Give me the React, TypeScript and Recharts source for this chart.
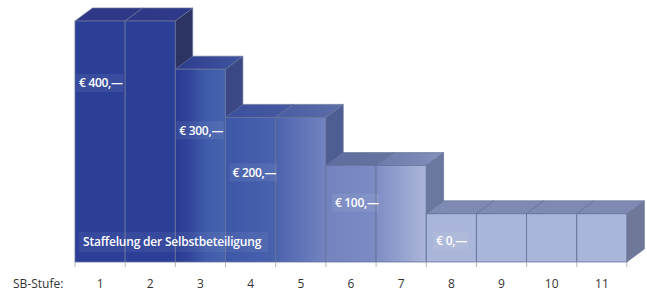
import React from 'react';
import { BarChart, Bar, XAxis, YAxis, LabelList } from 'recharts';

// ---- data ----
const stufen = ['1', '2', '3', '4', '5', '6', '7', '8', '9', '10', '11'];
const stufenHoehe = [5, 5, 4, 3, 3, 2, 2, 1, 1, 1, 1];
const selbstbeteiligung = [400, 400, 300, 200, 200, 100, 100, 0, 0, 0, 0];
const betragAnStufe = [0, 2, 3, 5, 7]; // index where the amount label is written
const achsenTitel = 'SB-Stufe:';
const diagrammTitel = 'Staffelung der Selbstbeteiligung';

const data = stufen.map((s, i) => ({ stufe: s, hoehe: stufenHoehe[i], sb: selbstbeteiligung[i] }));

// ---- styles ----
const FONT = '"Open Sans", "Noto Sans", sans-serif';
const DX = 17.5;
const DY = 13;
const frontStops: string[][] = [
  ['#2c3f97', '#2c3f97'],
  ['#2c3f97', '#2c3f97'],
  ['#293c93', '#4663ae'],
  ['#3e58a8', '#4862ae'],
  ['#4b63ae', '#7383c0'],
  ['#7383bf', '#7b8bc4'],
  ['#7e8dc5', '#abb6d9'],
  ['#a9b5d9', '#a9b5d9'],
  ['#a9b5d9', '#a9b5d9'],
  ['#a9b5d9', '#a9b5d9'],
  ['#a9b5d9', '#a9b5d9'],
];
const topStops: string[][] = [
  ['#2e3886', '#2e3886'],
  ['#2e3886', '#2f3a8a'],
  ['#2d3c8e', '#40549f'],
  ['#3c509e', '#46599f'],
  ['#4a5da3', '#5d6da8'],
  ['#5e6ca0', '#66749f'],
  ['#6c7aab', '#8390ba'],
  ['#7f8ab3', '#7f8ab3'],
  ['#7f8ab3', '#7f8ab3'],
  ['#7f8ab3', '#7f8ab3'],
  ['#7f8ab3', '#7f8ab3'],
];
const sideColors = ['#2c3464', '#2c3464', '#3a4985', '#4e5e93', '#4e5e93', '#6a789f', '#6a789f', '#6f7899', '#6f7899', '#6f7899', '#6f7899'];
const EDGE = '#66739b';
const labelLayout: Record<number, { dx: number; dy: number }> = {
  0: { dx: 4, dy: 62 },
  2: { dx: 4, dy: 61 },
  3: { dx: 7, dy: 55 },
  5: { dx: 9, dy: 37 },
  7: { dx: 10, dy: 27 },
};

const Box3D = (props: any) => {
  const { x, y, width, height, index } = props;
  const w = width;
  const b = y + height;
  const last = index === stufen.length - 1;
  return (
    <g>
      <polygon
        points={`${x + w},${y} ${x + w + DX},${y - DY} ${x + w + DX},${b - DY} ${x + w},${b}`}
        fill={sideColors[index]}
        stroke={EDGE}
        strokeWidth={0.7}
      />
      <polygon
        points={`${x},${y} ${x + DX},${y - DY} ${x + w + DX},${y - DY} ${x + w},${y}`}
        fill={`url(#top${index})`}
        stroke={EDGE}
        strokeWidth={0.7}
      />
      <rect x={x} y={y} width={w} height={height} fill={`url(#front${index})`} stroke={EDGE} strokeWidth={0.8} />
      <line x1={x} y1={b} x2={x} y2={b + 5} stroke="#b5b5b5" strokeWidth={1} />
      {last && <line x1={x + w} y1={b} x2={x + w} y2={b + 5} stroke="#b5b5b5" strokeWidth={1} />}
    </g>
  );
};

const LabelContent = (props: any) => {
  const { x, y, height, index } = props;
  const items: React.ReactNode[] = [];
  const lay = labelLayout[index];
  if (lay && betragAnStufe.includes(index)) {
    const txt = `€ ${selbstbeteiligung[index]},—`;
    const tw = txt.length * 5.9;
    const tx = x + lay.dx;
    const ty = y + lay.dy;
    items.push(
      <g key="b">
        <rect x={tx - 3} y={ty - 9} width={tw + 6} height={18} fill="#ffffff" fillOpacity={0.07} />
        <text x={tx} y={ty + 4.3} fill="#ffffff" fontFamily={FONT} fontWeight={600} fontSize={12} letterSpacing={-0.3}>
          {txt}
        </text>
      </g>
    );
  }
  if (index === 0) {
    const bottom = y + height;
    items.push(
      <g key="t">
        <rect x={x + 4} y={bottom - 30} width={189} height={20} fill="#ffffff" fillOpacity={0.06} />
        <text x={x + 8} y={bottom - 15.7} fill="#ffffff" fontFamily={FONT} fontWeight={600} fontSize={12} letterSpacing={-0.2}>
          {diagrammTitel}
        </text>
      </g>
    );
  }
  return <g>{items}</g>;
};

const Tick = (props: any) => {
  const { x, y, payload, index } = props;
  return (
    <g>
      {index === 0 && (
        <text x={13} y={y + 23.5} fill="#333333" fontFamily={FONT} fontSize={12}>
          {achsenTitel}
        </text>
      )}
      <text x={x} y={y + 23.5} textAnchor="middle" fill="#333333" fontFamily={FONT} fontSize={12}>
        {payload.value}
      </text>
    </g>
  );
};

export default function App() {
  return (
    <div style={{ position: 'absolute', left: 0, top: 0, background: '#ffffff' }}>
      <BarChart
        width={647}
        height={291}
        data={data}
        margin={{ top: 21, right: 20, left: 75, bottom: 0 }}
        barCategoryGap={0}
        barGap={0}
      >
        <defs>
          {frontStops.map((s, i) => (
            <linearGradient key={`f${i}`} id={`front${i}`} x1="0" y1="0" x2="1" y2="0">
              <stop offset="0" stopColor={s[0]} />
              {i === 2 && <stop offset="0.25" stopColor="#2f4399" />}
              {i === 2 && <stop offset="0.6" stopColor="#3f5baa" />}
              <stop offset="1" stopColor={s[1]} />
            </linearGradient>
          ))}
          {topStops.map((s, i) => (
            <linearGradient key={`t${i}`} id={`top${i}`} x1="0" y1="0" x2="1" y2="0">
              <stop offset="0" stopColor={s[0]} />
              <stop offset="1" stopColor={s[1]} />
            </linearGradient>
          ))}
        </defs>
        <XAxis
          dataKey="stufe"
          height={29}
          axisLine={false}
          tickLine={false}
          tickSize={0}
          tick={<Tick />}
          interval={0}
        />
        <YAxis hide domain={[0, 5]} />
        <Bar dataKey="hoehe" isAnimationActive={false} shape={<Box3D />}>
          <LabelList dataKey="sb" content={<LabelContent />} />
        </Bar>
      </BarChart>
    </div>
  );
}
